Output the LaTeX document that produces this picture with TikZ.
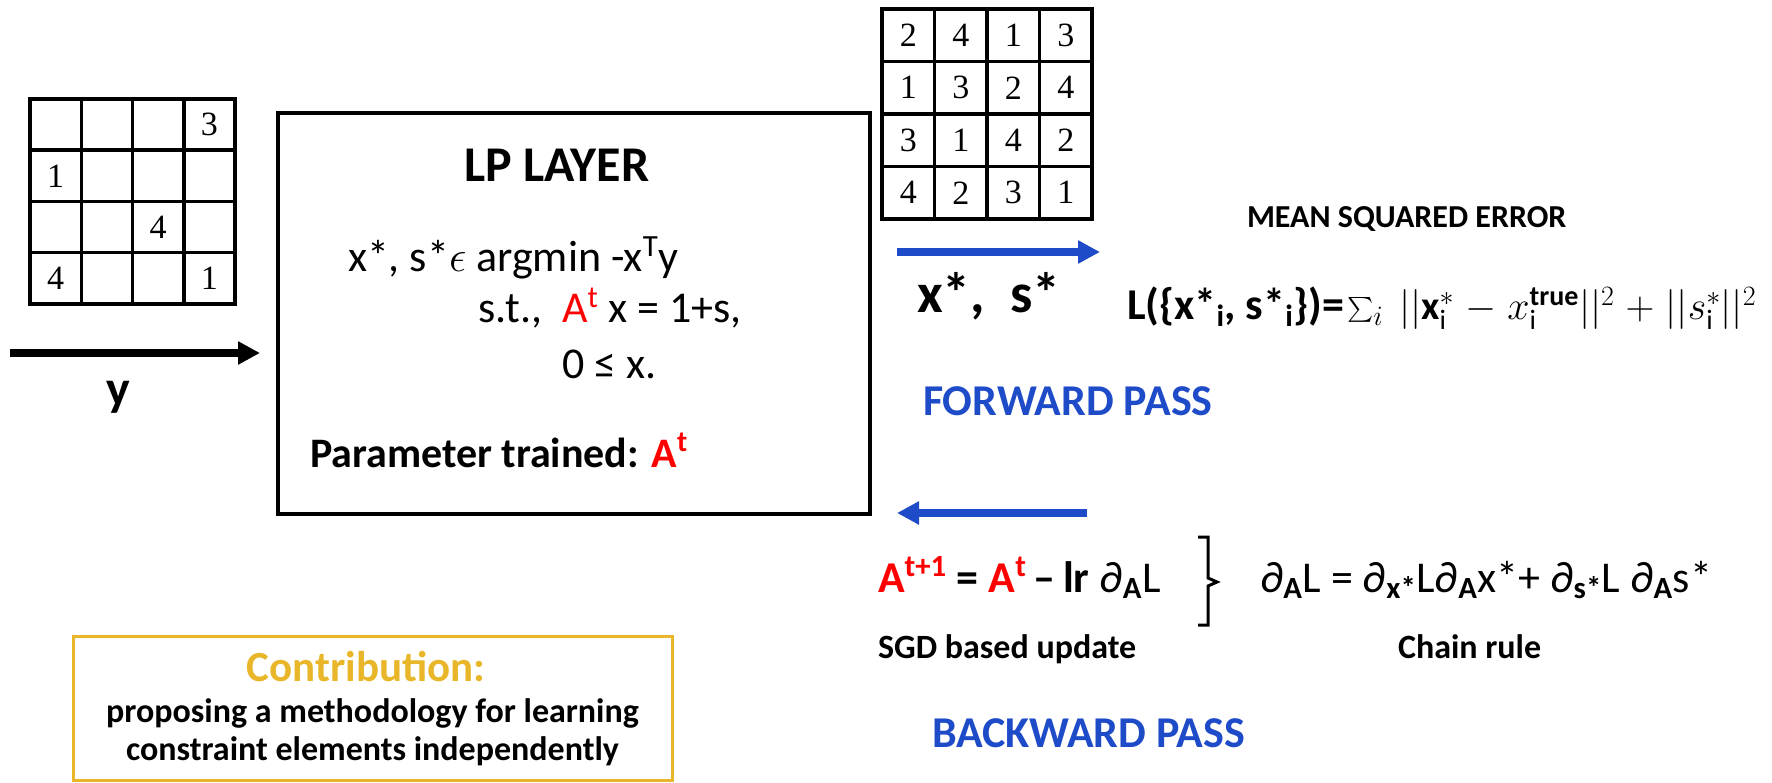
\RequirePackage{fix-cm}
\documentclass[tikz,border=0pt]{standalone}
\usepackage{fontspec}
\usepackage{amsmath}
\setmainfont{Carlito}
\newfontfamily\digitfont{Liberation Serif}
\usetikzlibrary{arrows.meta}
\definecolor{fblue}{RGB}{30,75,200}
\definecolor{gold}{RGB}{232,182,40}
\definecolor{rred}{RGB}{255,0,0}
\newcommand{\fsz}[1]{\fontsize{#1}{#1}\selectfont}
\tikzset{
  gridline/.style={line width=3.5pt},
  cellnum/.style={font=\digitfont\fsz{34}},
  bigarrow/.style={line width=8pt,-{Triangle[length=22pt,width=22pt]}},
  txt/.style={anchor=base west},
  ctxt/.style={anchor=base},
}
\begin{document}
\begin{tikzpicture}[x=1pt,y=-1pt,every node/.style={inner sep=0pt,outer sep=0pt}]
\useasboundingbox (0,0) rectangle (1772,783);
% left grid
\foreach \i in {1,2,3} {
  \draw[gridline] ({30+\i*51.25},99) -- ({30+\i*51.25},304);
  \draw[gridline] (30,{99+\i*51.25}) -- (235,{99+\i*51.25});
}
\draw[gridline] (30,99) rectangle (235,304);
\foreach \r/\c/\v in {0/3/3,1/0/1,2/2/4,3/0/4,3/3/1}
  \node[cellnum] (L\r\c) at ({30+(\c+0.5)*51.25},{99+(\r+0.5)*51.25}) {\v};
% right grid
\foreach \i in {1,2,3} {
  \draw[gridline] ({882+\i*52.5},9) -- ({882+\i*52.5},219);
  \draw[gridline] (882,{9+\i*52.5}) -- (1092,{9+\i*52.5});
}
\draw[gridline] (882,9) rectangle (1092,219);
\foreach \r/\c/\v in {0/0/2,0/1/4,0/2/1,0/3/3,1/0/1,1/1/3,1/2/2,1/3/4,2/0/3,2/1/1,2/2/4,2/3/2,3/0/4,3/1/2,3/2/3,3/3/1}
  \node[cellnum] (R\r\c) at ({882+(\c+0.5)*52.5},{9+(\r+0.5)*52.5}) {\v};
% input arrow
\coordinate (yin) at (10,353);
\coordinate (yout) at (260,353);
\draw[bigarrow] (yin) -- (yout);
\node[ctxt,font=\bfseries\fsz{50}] (ylab) at (118,405) {y};
% LP box
\node[draw,line width=4pt,minimum width=592pt,minimum height=401pt] (lp) at (574,313.5) {};
\node[ctxt,font=\bfseries\fsz{50}] (lptitle) at (557,182) {LP LAYER};
\node[txt,font=\fsz{44}] (l1) at (348,272) {x*, s*$\epsilon$ argmin -x\textsuperscript{T}y};
\node[txt,font=\fsz{44}] (l2) at (478,323) {s.t.,\ \ \textcolor{rred}{A\textsuperscript{t}} x = 1+s,};
\node[txt,font=\fsz{44}] (l3) at (562,378) {0 ≤ x.};
\node[txt,font=\bfseries\fsz{42}] (l4) at (310,467) {Parameter trained: \textcolor{rred}{A\textsuperscript{t}}};
% forward
\coordinate (fin) at (897,252);
\coordinate (fout) at (1100,252);
\draw[bigarrow,fblue] (fin) -- (fout);
\node[txt,font=\bfseries\fsz{56}] (xs) at (917,313) {x*,\ \ s*};
\node[txt,font=\bfseries\fsz{32}] (mse) at (1247,228) {MEAN SQUARED ERROR};
\node[txt,font=\fsz{40}] (loss) at (1127,320) {{\bfseries\fsz{44}L(\{x*\textsubscript{i}, s*\textsubscript{i}\})=}\hspace{3pt}$\sum_{i}\ ||\textbf{x}_{\text{i}}^{*}\mskip1mu - \mskip1mu x_{\text{i}}^{\textbf{true}}||^{2} \mskip1mu + \mskip1mu ||s_{\text{i}}^{*}||^{2}$};
\node[txt,font=\bfseries\fsz{44},text=fblue] (fwd) at (923,415) {FORWARD PASS};
% backward
\coordinate (bin) at (1087,513);
\coordinate (bout) at (897,513);
\draw[bigarrow,fblue] (bin) -- (bout);
\node[txt,font=\fsz{44}] (upd) at (878,592) {\textcolor{rred}{\bfseries A\textsuperscript{t+1}} \textbf{=} \textcolor{rred}{\bfseries A\textsuperscript{t}}\,\textbf{–\,lr} ∂\textsubscript{\bfseries A}L};
\draw[line width=3pt] (1198,537) -- (1208,537) -- (1208,578) -- (1217,582) -- (1208,586) -- (1208,625) -- (1198,625);
\node[txt,font=\fsz{44}] (chain) at (1260,592) {∂\textsubscript{\bfseries A}L = ∂\textsubscript{\bfseries x*}L∂\textsubscript{\bfseries A}x*+ ∂\textsubscript{\bfseries s*}L ∂\textsubscript{\bfseries A}s*};
\node[txt,font=\bfseries\fsz{34}] (sgd) at (878,658) {SGD based update};
\node[txt,font=\bfseries\fsz{34}] (chl) at (1398,658) {Chain rule};
\node[txt,font=\bfseries\fsz{44},text=fblue] (bwd) at (932,747) {BACKWARD PASS};
% contribution
\node[draw=gold,line width=3pt,minimum width=599pt,minimum height=144pt] (contrib) at (372.5,708) {};
\node[ctxt,font=\bfseries\fsz{43},text=gold] (c1) at (366,681) {Contribution:};
\node[ctxt,font=\bfseries\fsz{34}] (c2) at (372.5,722) {proposing a methodology for learning};
\node[ctxt,font=\bfseries\fsz{34}] (c3) at (372.5,760) {constraint elements independently};
\end{tikzpicture}
\end{document}
